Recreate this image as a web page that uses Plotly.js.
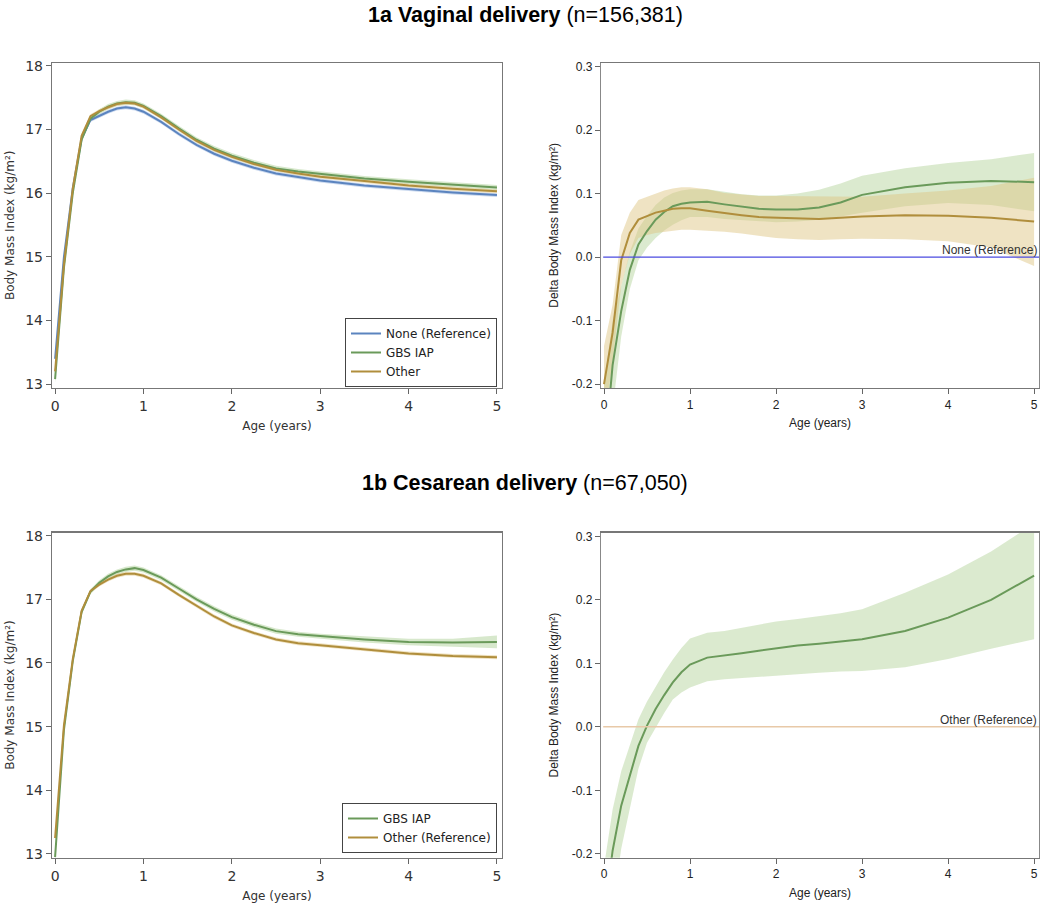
<!DOCTYPE html>
<html>
<head>
<meta charset="utf-8">
<script src="https://cdn.plot.ly/plotly-3.0.1.min.js"></script>
<style>body{margin:0;background:#fff}#chart{width:1050px;height:903px}</style>
</head>
<body>
<div id="chart"></div>
<script>
// ---------- Data ----------
const ageGrid = [0,0.1,0.2,0.3,0.4,0.5,0.6,0.7,0.8,0.9,1.0,1.2,1.4,1.6,1.8,2.0,2.25,2.5,2.75,3.0,3.5,4.0,4.5,5.0];

// 1a Vaginal delivery: BMI trajectories
const vagNone  = [13.40,15.00,16.08,16.86,17.15,17.22,17.28,17.33,17.35,17.33,17.28,17.12,16.93,16.76,16.62,16.51,16.40,16.31,16.25,16.20,16.12,16.06,16.01,15.97];
const vagNoneLo= [13.37,14.97,16.05,16.83,17.12,17.19,17.25,17.30,17.32,17.30,17.25,17.09,16.90,16.73,16.59,16.48,16.37,16.28,16.22,16.17,16.09,16.03,15.98,15.94];
const vagNoneHi= [13.43,15.03,16.11,16.89,17.18,17.25,17.31,17.36,17.38,17.36,17.31,17.15,16.96,16.79,16.65,16.54,16.43,16.34,16.28,16.23,16.15,16.09,16.04,16.00];
const vagGbs   = [13.08,14.83,16.00,16.84,17.17,17.28,17.36,17.41,17.43,17.42,17.37,17.21,17.02,16.84,16.70,16.59,16.48,16.39,16.34,16.30,16.23,16.18,16.13,16.09];
const vagGbsLo = [13.02,14.78,15.95,16.80,17.13,17.24,17.32,17.37,17.39,17.38,17.33,17.17,16.98,16.80,16.66,16.55,16.44,16.35,16.30,16.26,16.19,16.14,16.09,16.05];
const vagGbsHi = [13.14,14.88,16.05,16.88,17.21,17.32,17.40,17.45,17.47,17.46,17.41,17.25,17.06,16.88,16.74,16.63,16.52,16.43,16.38,16.34,16.27,16.22,16.17,16.13];
const vagOth   = [13.20,14.88,16.07,16.90,17.21,17.29,17.35,17.40,17.42,17.41,17.36,17.19,17.00,16.82,16.68,16.57,16.46,16.37,16.31,16.26,16.19,16.12,16.07,16.03];
const vagOthLo = [13.15,14.84,16.03,16.87,17.18,17.26,17.32,17.37,17.39,17.38,17.33,17.16,16.97,16.79,16.65,16.54,16.43,16.34,16.28,16.23,16.16,16.09,16.04,16.00];
const vagOthHi = [13.25,14.92,16.11,16.93,17.24,17.32,17.38,17.43,17.45,17.44,17.39,17.22,17.03,16.85,16.71,16.60,16.49,16.40,16.34,16.29,16.22,16.15,16.10,16.06];

// 1a Vaginal delivery: difference vs None (Reference)
const vagDGbs   = [-0.32,-0.17,-0.085,-0.020,0.020,0.041,0.059,0.071,0.080,0.084,0.086,0.087,0.083,0.079,0.076,0.075,0.075,0.078,0.086,0.098,0.110,0.117,0.120,0.118];
const vagDGbsLo = [-0.45,-0.24,-0.125,-0.050,-0.005,0.015,0.030,0.042,0.051,0.058,0.063,0.063,0.060,0.058,0.056,0.055,0.056,0.059,0.064,0.070,0.080,0.085,0.082,0.072];
const vagDGbsHi = [-0.20,-0.10,-0.045,0.008,0.045,0.065,0.082,0.094,0.101,0.105,0.107,0.107,0.103,0.099,0.097,0.097,0.100,0.106,0.116,0.128,0.140,0.148,0.154,0.164];
const vagDOth   = [-0.20,-0.119,-0.005,0.038,0.059,0.065,0.070,0.073,0.076,0.077,0.077,0.073,0.069,0.066,0.063,0.062,0.061,0.060,0.062,0.064,0.066,0.065,0.062,0.056];
const vagDOthLo = [-0.26,-0.165,-0.045,0.005,0.030,0.035,0.038,0.040,0.042,0.043,0.043,0.042,0.040,0.037,0.033,0.030,0.028,0.027,0.028,0.029,0.028,0.025,0.015,-0.014];
const vagDOthHi = [-0.14,-0.075,0.035,0.070,0.090,0.095,0.100,0.105,0.108,0.110,0.110,0.107,0.101,0.098,0.096,0.096,0.096,0.095,0.095,0.095,0.100,0.105,0.112,0.125];

// 1b Cesarean delivery: BMI trajectories
const cesGbs   = [12.95,14.95,16.03,16.80,17.12,17.26,17.36,17.43,17.47,17.49,17.46,17.34,17.17,17.00,16.85,16.72,16.60,16.50,16.45,16.42,16.37,16.33,16.32,16.33];
const cesGbsLo = [12.88,14.89,15.98,16.76,17.08,17.22,17.32,17.39,17.43,17.45,17.42,17.30,17.13,16.96,16.81,16.68,16.56,16.46,16.41,16.38,16.32,16.28,16.26,16.23];
const cesGbsHi = [13.02,15.01,16.08,16.84,17.16,17.30,17.40,17.47,17.51,17.53,17.50,17.38,17.21,17.04,16.89,16.76,16.64,16.54,16.49,16.46,16.42,16.38,16.38,16.43];
const cesOth   = [13.25,15.02,16.06,16.82,17.13,17.23,17.31,17.37,17.40,17.40,17.37,17.25,17.07,16.90,16.73,16.59,16.47,16.37,16.31,16.28,16.21,16.15,16.11,16.09];
const cesOthLo = [13.21,14.98,16.02,16.79,17.10,17.20,17.28,17.34,17.37,17.37,17.34,17.22,17.04,16.87,16.70,16.56,16.44,16.34,16.28,16.25,16.18,16.12,16.08,16.06];
const cesOthHi = [13.29,15.06,16.10,16.85,17.16,17.26,17.34,17.40,17.43,17.43,17.40,17.28,17.10,16.93,16.76,16.62,16.50,16.40,16.34,16.31,16.24,16.18,16.14,16.12];

// 1b Cesarean delivery: difference vs Other (Reference)
const cesDGbs   = [-0.30,-0.195,-0.124,-0.077,-0.030,0.002,0.028,0.050,0.070,0.086,0.098,0.109,0.112,0.116,0.120,0.124,0.128,0.131,0.134,0.138,0.151,0.172,0.200,0.238];
const cesDGbsLo = [-0.40,-0.29,-0.192,-0.130,-0.066,-0.025,-0.001,0.022,0.043,0.054,0.062,0.072,0.075,0.077,0.079,0.080,0.083,0.085,0.087,0.088,0.094,0.107,0.123,0.138];
const cesDGbsHi = [-0.22,-0.13,-0.070,-0.030,0.012,0.040,0.064,0.086,0.106,0.124,0.139,0.148,0.151,0.156,0.162,0.166,0.170,0.174,0.179,0.185,0.211,0.240,0.276,0.320];

const xTicks = [0,1,2,3,4,5];
const bmiTicks = [13,14,15,16,17,18];
const deltaTicks = [-0.2,-0.1,0.0,0.1,0.2,0.3];
const deltaTickText = ["-0.2","-0.1","0.0","0.1","0.2","0.3"];

// ---------- Styles ----------
const C = {
  blue:'#5b84bf', green:'#6a9a5a', tan:'#b08e3c',
  blueBand:'rgba(110,150,210,0.35)', greenBand:'rgba(150,195,120,0.38)', tanBand:'rgba(220,190,120,0.45)',
  greenBandR:'rgba(160,200,130,0.38)', tanBandR:'rgba(222,196,130,0.48)'
};

function band(x, lo, hi, color, xa, ya){
  return [
    {x:x, y:lo, xaxis:xa, yaxis:ya, mode:'lines', line:{width:0,color:color}, showlegend:false, hoverinfo:'skip'},
    {x:x, y:hi, xaxis:xa, yaxis:ya, mode:'lines', line:{width:0,color:color}, fill:'tonexty', fillcolor:color, showlegend:false, hoverinfo:'skip'}
  ];
}
function line(x, y, color, name, xa, ya, legend, lg){
  return {x:x, y:y, xaxis:xa, yaxis:ya, mode:'lines', name:name, line:{color:color, width:2}, showlegend:legend, legend:lg};
}

const traces = [
  ...band(ageGrid, vagNoneLo, vagNoneHi, C.blueBand, 'x','y'),
  ...band(ageGrid, vagGbsLo, vagGbsHi, C.greenBand, 'x','y'),
  ...band(ageGrid, vagOthLo, vagOthHi, C.tanBand, 'x','y'),
  line(ageGrid, vagNone, C.blue, 'None (Reference)', 'x','y', true, 'legend'),
  line(ageGrid, vagGbs, C.green, 'GBS IAP', 'x','y', true, 'legend'),
  line(ageGrid, vagOth, C.tan, 'Other', 'x','y', true, 'legend'),

  ...band(ageGrid, vagDGbsLo, vagDGbsHi, C.greenBandR, 'x2','y2'),
  ...band(ageGrid, vagDOthLo, vagDOthHi, C.tanBandR, 'x2','y2'),
  line(ageGrid, vagDGbs, C.green, 'GBS IAP', 'x2','y2', false),
  line(ageGrid, vagDOth, C.tan, 'Other', 'x2','y2', false),

  ...band(ageGrid, cesGbsLo, cesGbsHi, C.greenBand, 'x3','y3'),
  ...band(ageGrid, cesOthLo, cesOthHi, C.tanBand, 'x3','y3'),
  line(ageGrid, cesGbs, C.green, 'GBS IAP', 'x3','y3', true, 'legend2'),
  line(ageGrid, cesOth, C.tan, 'Other (Reference)', 'x3','y3', true, 'legend2'),

  ...band(ageGrid, cesDGbsLo, cesDGbsHi, C.greenBandR, 'x4','y4'),
  line(ageGrid, cesDGbs, C.green, 'GBS IAP', 'x4','y4', false)
];

const dvFont = {family:'DejaVu Sans, sans-serif', size:12, color:'#333'};
const arFont = {family:'Liberation Sans, Arial, sans-serif', size:12, color:'#222'};

function xAxis(domain, anchor, font, tsize){
  return {domain:domain, anchor:anchor, range:[-0.035,5.057], tickvals:xTicks, ticks:'outside', ticklen:5,
    tickcolor:'#666', showline:true, linecolor:'#777', linewidth:1.2, mirror:true, showgrid:false, zeroline:false,
    tickfont:Object.assign({},font,{size:tsize}), title:{text:'Age (years)', font:font, standoff:8}};
}
function yAxisBmi(domain, anchor){
  return {domain:domain, anchor:anchor, range:[12.94,18.05], tickvals:bmiTicks, ticks:'outside', ticklen:5,
    tickcolor:'#666', showline:true, linecolor:'#777', linewidth:1.2, mirror:true, showgrid:false, zeroline:false,
    tickfont:Object.assign({},dvFont,{size:14}), title:{text:'Body Mass Index (kg/m²)', font:dvFont, standoff:8}};
}
function yAxisDelta(domain, anchor){
  return {domain:domain, anchor:anchor, range:[-0.206,0.306], tickvals:deltaTicks, ticktext:deltaTickText, ticks:'outside', ticklen:5,
    tickcolor:'#666', showline:true, linecolor:'#888', linewidth:1.2, mirror:true, showgrid:false, zeroline:false,
    tickfont:arFont, title:{text:'Delta Body Mass Index (kg/m²)', font:arFont, standoff:10}};
}

const xdL = [52/1050, 502/1050], xdR = [601/1050, 1039/1050];
const ydT = [1-388/903, 1-62.7/903], ydB = [1-857.7/903, 1-532.5/903];

const titleFont = {family:'Liberation Sans, Arial, sans-serif', size:21.5, color:'#000'};
const legFont = {family:'DejaVu Sans, sans-serif', size:12, color:'#222'};

const layout = {
  width:1050, height:903, margin:{l:0,r:0,t:0,b:0},
  paper_bgcolor:'#fff', plot_bgcolor:'#fff', showlegend:true,
  xaxis: xAxis(xdL,'y',dvFont,14), yaxis: yAxisBmi(ydT,'x'),
  xaxis2: xAxis(xdR,'y2',arFont,12), yaxis2: yAxisDelta(ydT,'x2'),
  xaxis3: xAxis(xdL,'y3',dvFont,14), yaxis3: yAxisBmi(ydB,'x3'),
  xaxis4: xAxis(xdR,'y4',arFont,12), yaxis4: yAxisDelta(ydB,'x4'),
  legend:{x:497/1050, y:1-387/903, xanchor:'right', yanchor:'bottom', bordercolor:'#444', borderwidth:1,
    bgcolor:'#fff', font:legFont, traceorder:'normal', tracegroupgap:0, itemwidth:30},
  legend2:{x:497/1050, y:1-853/903, xanchor:'right', yanchor:'bottom', bordercolor:'#444', borderwidth:1,
    bgcolor:'#fff', font:legFont, traceorder:'normal', tracegroupgap:0, itemwidth:30},
  shapes:[
    {type:'line', xref:'x2 domain', x0:0.005, x1:1, yref:'y2', y0:0, y1:0, line:{color:'#4b4be0', width:1.3}},
    {type:'line', xref:'x4 domain', x0:0.005, x1:1, yref:'y4', y0:0, y1:0, line:{color:'#e8c9a8', width:1.5}}
  ],
  annotations:[
    {xref:'paper', yref:'paper', x:0.5, y:1-15/903, xanchor:'center', yanchor:'middle', showarrow:false,
     text:'<b>1a Vaginal delivery</b> (n=156,381)', font:titleFont},
    {xref:'paper', yref:'paper', x:0.5, y:1-483/903, xanchor:'center', yanchor:'middle', showarrow:false,
     text:'<b>1b Cesarean delivery</b> (n=67,050)', font:titleFont},
    {xref:'x2 domain', yref:'y2', x:1, y:0, xanchor:'right', yanchor:'bottom', showarrow:false,
     text:'None (Reference)', font:Object.assign({},arFont,{color:'#333'}), yshift:-2},
    {xref:'x4 domain', yref:'y4', x:1, y:0, xanchor:'right', yanchor:'bottom', showarrow:false,
     text:'Other (Reference)', font:Object.assign({},arFont,{color:'#333'}), yshift:-2}
  ]
};

Plotly.newPlot('chart', traces, layout, {staticPlot:true, displayModeBar:false});
</script>
</body>
</html>
